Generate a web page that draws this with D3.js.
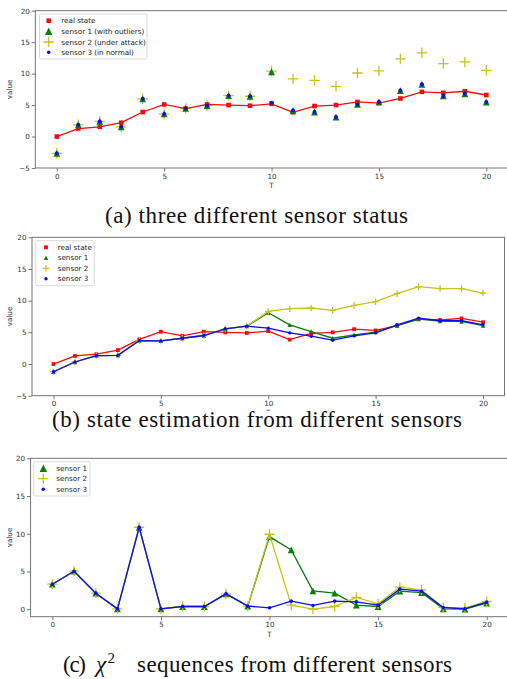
<!DOCTYPE html>
<html><head><meta charset="utf-8">
<script src="https://cdn.jsdelivr.net/npm/d3@7"></script>
<style>
html,body{margin:0;padding:0;background:#fff;}
svg{display:block;}
.cap{font-family:"Liberation Serif","Times New Roman",Times,serif;}
</style></head>
<body>
<svg id="chart" width="507" height="679"></svg>
<script>
// ---------- data ----------
const T = d3.range(0, 21);
const xTicks = [0, 5, 10, 15, 20];
const yTicksAB = [-5, 0, 5, 10, 15, 20];
const yTicksC = [0, 5, 10, 15, 20];

// (a) real state and sensor measurements
const realState = [0, 1.27, 1.55, 2.2, 3.9, 5.1, 4.45, 5.1, 5.0, 4.9, 5.2, 3.85, 4.85, 5.0, 5.5, 5.3, 6.05, 7.1, 6.95, 7.2, 6.6];
const s3Meas = [-2.66, 1.86, 2.4, 1.54, 6.0, 3.6, 4.47, 4.9, 6.5, 6.4, 5.37, 4.15, 3.9, 3.1, 5.1, 5.5, 7.3, 8.3, 6.45, 6.8, 5.48];
const s1Meas = [-2.66, 1.86, 2.4, 1.54, 6.0, 3.6, 4.47, 4.9, 6.5, 6.4, 10.3, 4.15, 3.9, 3.1, 5.1, 5.5, 7.3, 8.3, 6.45, 6.8, 5.48];
const s2Meas = [-2.66, 1.86, 2.4, 1.54, 6.0, 3.6, 4.47, 4.9, 6.5, 6.4, 10.4, 9.15, 8.94, 7.98, 10.1, 10.43, 12.34, 13.3, 11.6, 11.86, 10.53];

// (b) state estimation
const s1Est = [-1.22, 0.32, 1.32, 1.38, 3.7, 3.65, 4.07, 4.5, 5.56, 5.98, 8.1, 6.19, 5.13, 4.07, 4.6, 5.03, 6.08, 7.09, 6.77, 6.72, 6.08];
const s2Est = [-1.22, 0.32, 1.32, 1.38, 3.7, 3.65, 4.07, 4.5, 5.56, 5.98, 8.3, 8.73, 8.84, 8.47, 9.26, 9.84, 11.1, 12.2, 11.9, 11.9, 11.2];
const s3Est = [-1.22, 0.32, 1.32, 1.38, 3.7, 3.65, 4.07, 4.5, 5.56, 5.98, 5.66, 4.92, 4.39, 3.76, 4.44, 4.92, 6.19, 7.25, 6.83, 6.83, 6.19];

// (c) chi-square sequences
const chi1 = [3.31, 5.03, 2.12, 0.04, 10.86, 0.04, 0.35, 0.35, 2.03, 0.4, 9.62, 7.86, 2.43, 2.12, 0.53, 0.35, 2.38, 2.2, 0.04, 0.0, 0.8];
const chi2 = [3.31, 5.03, 2.12, 0.04, 10.86, 0.04, 0.35, 0.35, 2.03, 0.4, 9.93, 0.53, 0.0, 0.35, 1.55, 0.71, 2.91, 2.56, 0.22, 0.18, 1.02];
const chi3 = [3.31, 5.03, 2.12, 0.04, 10.86, 0.04, 0.35, 0.35, 2.03, 0.4, 0.18, 1.06, 0.49, 1.06, 0.97, 0.53, 2.65, 2.38, 0.22, 0.04, 0.93];

const labelsA = ["real state", "sensor 1 (with outliers)", "sensor 2 (under attack)", "sensor 3 (in normal)"];
const labelsB = ["real state", "sensor 1", "sensor 2", "sensor 3"];
const labelsC = ["sensor 1", "sensor 2", "sensor 3"];
const captionA = "(a) three different sensor status";
const captionB = "(b) state estimation from different sensors";
const captionC = ["(c)", "\u03C7", "2", "sequences from different sensors"];

// ---------- styles ----------
const RED = "#f20c0c", GREEN = "#0b7d0b", YEL = "#c4c41c", BLUE = "#0c0cee";
const svg = d3.select("#chart");
const FONT = "DejaVu Sans, sans-serif";

function marker(g, type, x, y, s, color) {
  if (type === "square") {
    g.append("rect").attr("x", x - s / 2).attr("y", y - s / 2).attr("width", s).attr("height", s).attr("fill", color);
  } else if (type === "tri") {
    const h = s / 2;
    g.append("path").attr("d", `M${x},${y - h}L${x - h},${y + h}L${x + h},${y + h}Z`).attr("fill", color);
  } else if (type === "plus") {
    const h = s / 2;
    g.append("path").attr("d", `M${x - h},${y}H${x + h}M${x},${y - h}V${y + h}`).attr("stroke", color).attr("stroke-width", 1.3).attr("fill", "none");
  } else if (type === "dot") {
    g.append("circle").attr("cx", x).attr("cy", y).attr("r", s / 2).attr("fill", color);
  }
}

function panel(cfg) {
  const x = d3.scaleLinear().domain([-1, 21]).range([cfg.left, cfg.right]);
  const y = d3.scaleLinear().domain(cfg.yDomain).range([cfg.bottom, cfg.top]);
  const g = svg.append("g");
  const clipId = "clip" + cfg.id;
  svg.append("clipPath").attr("id", clipId).append("rect")
    .attr("x", cfg.left).attr("y", cfg.top - 6).attr("width", cfg.right - cfg.left).attr("height", cfg.bottom - cfg.top + 6);
  const plot = g.append("g").attr("clip-path", `url(#${clipId})`);

  // series (in drawing order)
  cfg.series.forEach(s => {
    if (s.line) {
      plot.append("path").datum(s.values)
        .attr("d", d3.line().x((d, i) => x(T[i])).y(d => y(d)))
        .attr("fill", "none").attr("stroke", s.color).attr("stroke-width", s.lw || 1.3);
    }
    s.values.forEach((v, i) => marker(plot, s.type, x(T[i]), y(v), s.size, s.color));
  });

  // axes
  const xa = g.append("g").attr("transform", `translate(0,${cfg.bottom})`)
    .call(d3.axisBottom(x).tickValues(xTicks).tickSize(3.5).tickPadding(2).tickFormat(d3.format("d")));
  const ya = g.append("g").attr("transform", `translate(${cfg.left},0)`)
    .call(d3.axisLeft(y).tickValues(cfg.yTicks).tickSize(3.5).tickPadding(2).tickFormat(d => d < 0 ? "\u2212" + Math.abs(d) : d));
  [xa, ya].forEach(a => {
    a.select(".domain").remove();
    a.selectAll("line").attr("stroke", "#555").attr("stroke-width", 0.8);
    a.selectAll("text").attr("font-family", FONT).attr("font-size", 7.2).attr("fill", "#333");
  });
  // frame
  g.append("rect").attr("x", cfg.left).attr("y", cfg.top)
    .attr("width", cfg.right - cfg.left).attr("height", cfg.bottom - cfg.top)
    .attr("fill", "none").attr("stroke", "#666").attr("stroke-width", 0.9);

  // axis labels
  const tl = g.append("text").attr("x", x(10)).attr("y", cfg.tLabelY).attr("text-anchor", "middle")
    .attr("font-family", FONT).attr("font-size", 7.2).attr("fill", "#333").text("T");
  if (cfg.tClip) {
    svg.append("clipPath").attr("id", clipId + "t").append("rect").attr("x", 0).attr("y", 0).attr("width", 507).attr("height", cfg.tClip);
    tl.attr("clip-path", `url(#${clipId}t)`);
  }
  g.append("text").attr("transform", `translate(12,${(cfg.top + cfg.bottom) / 2}) rotate(-90)`)
    .attr("text-anchor", "middle").attr("font-family", FONT).attr("font-size", 7.2).attr("fill", "#333").text("value");

  // legend
  const L = cfg.legend;
  const lg = g.append("g");
  lg.append("rect").attr("x", L.x0).attr("y", L.y0).attr("width", L.x1 - L.x0).attr("height", L.y1 - L.y0)
    .attr("rx", 1.5).attr("fill", "#fff").attr("fill-opacity", 0.85).attr("stroke", "#d0d0d0").attr("stroke-width", 0.8);
  cfg.legendItems.forEach((s, i) => {
    const yy = L.rows[i];
    marker(lg, s.type, L.mx, yy, s.lsize || s.size, s.color);
    lg.append("text").attr("x", L.tx).attr("y", yy + 2.5).attr("font-family", FONT).attr("font-size", 7.2).attr("fill", "#222").text(s.label);
  });
}

function caption(txt, x0, x1, base) {
  svg.append("text").attr("class", "cap").attr("x", x0).attr("y", base).attr("font-size", 23)
    .attr("fill", "#111").attr("textLength", x1 - x0).attr("lengthAdjust", "spacing").text(txt);
}

// ---------- (a) ----------
{
  const real = { values: realState, type: "square", size: 4.6, color: RED, line: true, lw: 1.3, label: labelsA[0] };
  const a1 = { values: s1Meas, type: "tri", size: 6.8, color: GREEN, label: labelsA[1], lsize: 7.5 };
  const a2 = { values: s2Meas, type: "plus", size: 10.5, color: YEL, label: labelsA[2] };
  const a3 = { values: s3Meas, type: "dot", size: 4, color: BLUE, label: labelsA[3], lsize: 3.6 };
  panel({
    id: "a", left: 35.3, right: 507.8, top: 10.7, bottom: 168, yDomain: [-5, 20], yTicks: yTicksAB, tLabelY: 188,
    series: [a2, real, a1, a3],
    legendItems: [real, a1, a2, a3],
    legend: { x0: 39.5, y0: 14, x1: 147, y1: 59, mx: 48.7, tx: 61.3, rows: [20.7, 31.3, 42, 52.3] }
  });
}
caption(captionA, 105, 408, 223);

// ---------- (b) ----------
{
  const real = { values: realState, type: "square", size: 3.8, color: RED, line: true, lw: 1.3, label: labelsB[0] };
  const b1 = { values: s1Est, type: "tri", size: 4.4, color: GREEN, line: true, label: labelsB[1] };
  const b2 = { values: s2Est, type: "plus", size: 6.5, color: YEL, line: true, label: labelsB[2] };
  const b3 = { values: s3Est, type: "dot", size: 3.4, color: BLUE, line: true, label: labelsB[3] };
  panel({
    id: "b", left: 32, right: 504.5, top: 237.3, bottom: 395.7, yDomain: [-5, 20], yTicks: yTicksAB, tLabelY: 414.5, tClip: 411,
    series: [real, b1, b2, b3],
    legendItems: [real, b1, b2, b3],
    legend: { x0: 35.7, y0: 240.7, x1: 94.3, y1: 285.7, mx: 46, tx: 57.7, rows: [247.3, 257.7, 268.3, 278.7] }
  });
}
caption(captionB, 52, 462, 427);

// ---------- (c) ----------
{
  const c1 = { values: chi1, type: "tri", size: 6.8, color: GREEN, line: true, label: labelsC[0], lsize: 7.5 };
  const c2 = { values: chi2, type: "plus", size: 10, color: YEL, line: true, label: labelsC[1] };
  const c3 = { values: chi3, type: "dot", size: 3.6, color: BLUE, line: true, label: labelsC[2] };
  panel({
    id: "c", left: 30.6, right: 508.4, top: 458.3, bottom: 616.7, yDomain: [-1, 20], yTicks: yTicksC, tLabelY: 636.5,
    series: [c1, c2, c3],
    legendItems: [c1, c2, c3],
    legend: { x0: 33.7, y0: 461.7, x1: 90, y1: 496, mx: 43.3, tx: 56.3, rows: [468.3, 478.7, 489.3] }
  });
}
{
  const base = 672;
  svg.append("text").attr("class", "cap").attr("x", 63).attr("y", base).attr("font-size", 23).attr("fill", "#111")
    .attr("textLength", 23).attr("lengthAdjust", "spacing").text(captionC[0]);
  svg.append("text").attr("class", "cap").attr("x", 96).attr("y", base).attr("font-size", 23).attr("font-style", "italic")
    .attr("fill", "#111").text(captionC[1]);
  svg.append("text").attr("class", "cap").attr("x", 107.5).attr("y", base - 9).attr("font-size", 15).attr("fill", "#111").text(captionC[2]);
  svg.append("text").attr("class", "cap").attr("x", 137).attr("y", base).attr("font-size", 23).attr("fill", "#111")
    .attr("textLength", 315).attr("lengthAdjust", "spacing").text(captionC[3]);
}
</script>
</body></html>
